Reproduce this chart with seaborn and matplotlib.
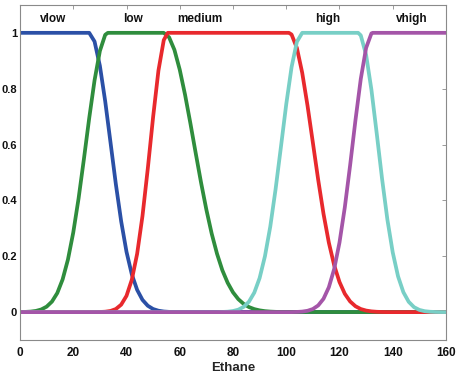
import matplotlib
matplotlib.use("Agg")
import matplotlib.pyplot as plt
import seaborn as sns
import pandas as pd

# ---- data (membership degree vs Ethane) ----
vlow_x = [0, 26, 28, 30, 32, 34, 36, 38, 40, 42, 44, 46, 48, 50, 52, 54, 56, 160]
vlow_y = [1, 1, 0.969, 0.882, 0.755, 0.607, 0.458, 0.325, 0.216, 0.135, 0.0796,
          0.0439, 0.0228, 0.0111, 0.0051, 0.0022, 0.0009, 0]

low_x = [0, 2, 4, 6, 8, 10, 12, 14, 16, 18, 20, 22, 24, 26, 28, 30, 32, 33,
         54, 56, 58, 60, 62, 64, 66, 68, 70, 72, 74, 76, 78, 80, 82, 84, 86,
         88, 90, 92, 94, 96, 98, 160]
low_y = [0.0003, 0.0008, 0.0019, 0.0044, 0.0096, 0.0196, 0.0377, 0.0683, 0.117,
         0.188, 0.285, 0.407, 0.548, 0.695, 0.830, 0.935, 0.993, 1,
         1, 0.984, 0.939, 0.868, 0.778, 0.676, 0.569, 0.464, 0.367, 0.281,
         0.209, 0.150, 0.105, 0.0709, 0.0464, 0.0295, 0.0181, 0.0108, 0.0063,
         0.0035, 0.0019, 0.0010, 0.0005, 0]

medium_x = [0, 28, 30, 32, 34, 36, 38, 40, 42, 44, 46, 48, 50, 52, 54, 55.5,
            101, 102, 104, 106, 108, 110, 112, 114, 116, 118, 120, 122, 124,
            126, 128, 130, 132, 134, 136, 138, 160]
medium_y = [0, 0, 0.0005, 0.0015, 0.0042, 0.0111, 0.0267, 0.0583, 0.116, 0.209,
            0.344, 0.514, 0.699, 0.865, 0.974, 1,
            1, 0.994, 0.946, 0.857, 0.739, 0.607, 0.474, 0.352, 0.249, 0.168,
            0.108, 0.0657, 0.0382, 0.0211, 0.0111, 0.0056, 0.0027, 0.0012,
            0.0005, 0, 0]

high_x = [0, 74, 76, 78, 80, 82, 84, 86, 88, 90, 92, 94, 96, 98, 100, 102, 104,
          106, 127, 128, 130, 132, 134, 136, 138, 140, 142, 144, 146, 148, 150,
          152, 154, 156, 158, 160]
high_y = [0, 0, 0.0006, 0.0016, 0.0039, 0.0088, 0.0188, 0.0374, 0.0698, 0.122,
          0.200, 0.306, 0.440, 0.591, 0.744, 0.877, 0.968,
          1, 1, 0.991, 0.921, 0.796, 0.639, 0.477, 0.331, 0.214, 0.128, 0.0714,
          0.0370, 0.0178, 0.0080, 0.0033, 0.0013, 0.0005, 0.0002, 0.0001]

vhigh_x = [0, 102, 104, 106, 108, 110, 112, 114, 116, 118, 120, 122, 124, 126,
           128, 130, 132, 132.5, 160]
vhigh_y = [0, 0, 0.0007, 0.0019, 0.0048, 0.0111, 0.0239, 0.0477, 0.0889, 0.154,
           0.249, 0.375, 0.526, 0.687, 0.835, 0.946, 0.998, 1, 1]

set_names = ["vlow", "low", "medium", "high", "vhigh"]
label_x = [12.5, 42.5, 67.5, 115.5, 147]
label_y = 1.05
colors = ["#2b50a6", "#2f8d3d", "#e8292d", "#78cfc6", "#a455a8"]

x_ticks = [0, 20, 40, 60, 80, 100, 120, 140, 160]
y_ticks = [0, 0.2, 0.4, 0.6, 0.8, 1]
y_tick_labels = ["0", "0.2", "0.4", "0.6", "0.8", "1"]
x_label = "Ethane"

# ---- build long table ----
frames = []
for name, xs, ys in zip(set_names,
                        [vlow_x, low_x, medium_x, high_x, vhigh_x],
                        [vlow_y, low_y, medium_y, high_y, vhigh_y]):
    frames.append(pd.DataFrame({"x": xs, "y": ys, "set": name}))
df = pd.concat(frames, ignore_index=True)

sns.set_style("white")
plt.rcParams["font.family"] = ["Liberation Sans", "DejaVu Sans"]
plt.rcParams["font.weight"] = "bold"

fig = plt.figure(figsize=(4.6, 3.77), dpi=100)
ax = fig.add_axes([0.0435, 0.098, 0.926, 0.889])

for name, col in zip(set_names, colors):
    sub = df[df["set"] == name]
    sns.lineplot(data=sub, x="x", y="y", ax=ax, color=col, linewidth=2.7,
                 sort=False, estimator=None, legend=False)

ax.set_xlim(0, 160)
ax.set_ylim(-0.1, 1.1)
ax.set_xticks(x_ticks)
ax.set_xticklabels([str(t) for t in x_ticks], fontsize=8.5, fontweight="bold")
ax.set_yticks(y_ticks)
ax.set_yticklabels(y_tick_labels, fontsize=8, fontweight="bold")
ax.set_xlabel(x_label, fontsize=9.5, fontweight="bold", labelpad=2)
ax.set_ylabel("")

for sp in ax.spines.values():
    sp.set_color("#8a8a8a")
    sp.set_linewidth(0.8)
ax.tick_params(direction="in", top=True, right=True, length=3, width=0.6,
               color="#8a8a8a", labelcolor="#111111")
ax.tick_params(axis="x", pad=5)
ax.tick_params(axis="y", pad=2)

for name, lx in zip(set_names, label_x):
    ax.text(lx, label_y, name, ha="center", va="center", fontsize=8.5,
            fontweight="bold", color="#111111")

fig.savefig("out.png", dpi=100)
